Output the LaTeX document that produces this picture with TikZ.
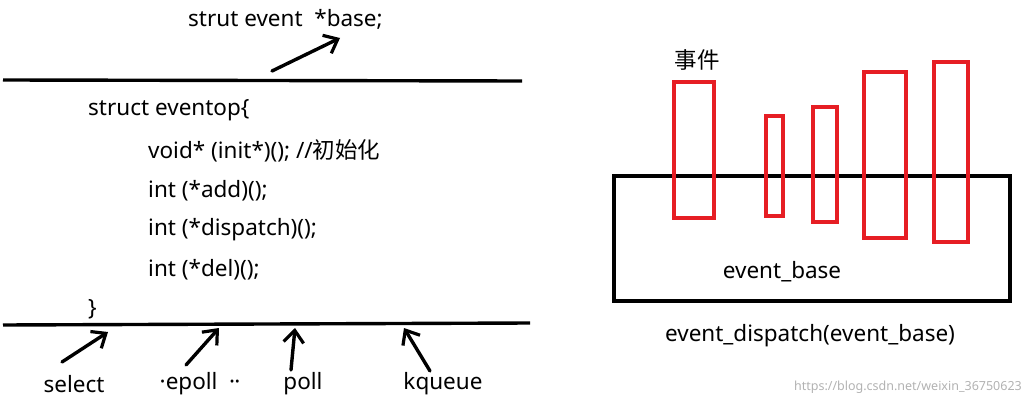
\documentclass[tikz,border=0pt]{standalone}
\usepackage{fontspec}
\setmainfont{Noto Sans}
\newfontfamily\cjk{Noto Sans CJK SC}
\usetikzlibrary{arrows.meta}
\definecolor{boxred}{RGB}{230,30,36}
\begin{document}
\begin{tikzpicture}[x=1pt,y=-1pt,
  txt/.style={font=\fontsize{22.5}{26}\selectfont, inner sep=0pt},
  thick line/.style={line width=3.4pt},
  pointer/.style={line width=3.4pt, line cap=round, -{Straight Barb[length=12pt,width=20pt,line width=3.2pt]}},
  redbox/.style={draw=boxred, line width=3.4pt}]
\useasboundingbox (0,0) rectangle (1030,406);
% top part
\node[txt, anchor=west] (base) at (188,19) {strut event\ \ *base;};
\coordinate (tl1) at (3,80); \coordinate (tl2) at (522,81);
\draw[thick line] (tl1) -- (tl2);
\coordinate (ta) at (272,71); \coordinate (tb) at (340,38);
\draw[pointer] (ta) -- (tb);
% struct
\node[txt, anchor=west] (s0) at (88,110) {struct eventop\{};
\node[txt, anchor=west] (s1) at (148,151) {void* (init*)(); //{\cjk 初始化}};
\node[txt, anchor=west] (s2) at (148,191) {int (*add)();};
\node[txt, anchor=west] (s3) at (148,230) {int (*dispatch)();};
\node[txt, anchor=west] (s4) at (148,270) {int (*del)();};
\node[txt, anchor=west] (s5) at (88,309) {\}};
% bottom line
\coordinate (bl1) at (3,325); \coordinate (bl2) at (530,323);
\draw[thick line] (bl1) -- (bl2);
\node[txt] (sel) at (74,384) {select};
\node[txt] (ep) at (200,384) {\textperiodcentered epoll\ \ \textperiodcentered\kern-1pt\textperiodcentered};
\node[txt] (po) at (303,384) {poll};
\node[txt] (kq) at (443,384) {kqueue};
\coordinate (a1) at (62,362); \coordinate (b1) at (108,332);
\coordinate (a2) at (186,365); \coordinate (b2) at (219,328);
\coordinate (a3) at (291,370); \coordinate (b3) at (295,328);
\coordinate (a4) at (430,371); \coordinate (b4) at (404,328);
\foreach \i in {1,2,3,4} \draw[pointer] (a\i) -- (b\i);
% right part
\draw[line width=3.4pt] (614,176) rectangle (1010,301);
\node[txt] (eb) at (782,272) {event\_base};
\node[txt] (ed) at (810,336) {event\_dispatch(event\_base)};
\node[txt] (ev) at (697,60) {\cjk 事件};
\draw[redbox] (674,82) rectangle (714,218);
\draw[redbox] (766,116) rectangle (783,216);
\draw[redbox] (813,107) rectangle (837,222);
\draw[redbox] (864,72) rectangle (906,238);
\draw[redbox] (934,62) rectangle (968,242);
\node[font=\fontsize{12.5}{14}\selectfont, text=gray!60, anchor=east, inner sep=0pt] (wm) at (1022,387) {https://blog.csdn.net/weixin\_36750623};
\end{tikzpicture}
\end{document}
